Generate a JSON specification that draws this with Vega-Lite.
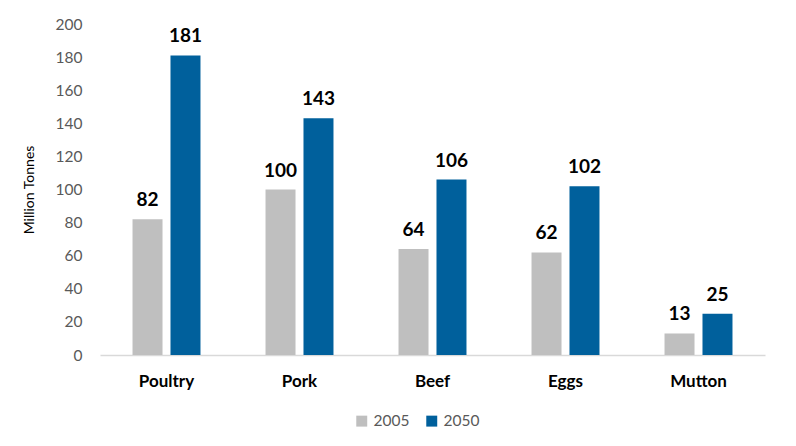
{
  "$schema": "https://vega.github.io/schema/vega-lite/v6.json",
  "width": 665,
  "height": 331,
  "autosize": {"type": "none"},
  "padding": {"left": 100, "top": 24, "right": 31, "bottom": 91},
  "background": "white",
  "config": {"font": "Lato", "view": {"stroke": null}},
  "data": {"values": [
    {"product": "Poultry", "year": "2005", "value": 82},
    {"product": "Poultry", "year": "2050", "value": 181},
    {"product": "Pork", "year": "2005", "value": 100},
    {"product": "Pork", "year": "2050", "value": 143},
    {"product": "Beef", "year": "2005", "value": 64},
    {"product": "Beef", "year": "2050", "value": 106},
    {"product": "Eggs", "year": "2005", "value": 62},
    {"product": "Eggs", "year": "2050", "value": 102},
    {"product": "Mutton", "year": "2005", "value": 13},
    {"product": "Mutton", "year": "2050", "value": 25}
  ]},
  "encoding": {
    "x": {"field": "product", "type": "nominal", "sort": null,
      "scale": {"paddingInner": 0.489, "paddingOuter": 0.2445},
      "axis": {"title": null, "labelAngle": 0, "labelFontSize": 17, "labelFontWeight": "bold", "labelColor": "#000000", "ticks": false, "domainColor": "#D9D9D9", "domainWidth": 1.5, "labelPadding": 18}},
    "xOffset": {"field": "year", "type": "nominal", "scale": {"paddingInner": 0.21, "paddingOuter": 0}},
    "y": {"field": "value", "type": "quantitative",
      "scale": {"domain": [0, 200]},
      "axis": {"values": [0,20,40,60,80,100,120,140,160,180,200], "title": "Million Tonnes", "titleFontSize": 14, "titleFontWeight": "normal", "titleColor": "#000000", "titlePadding": 19, "grid": false, "domain": false, "ticks": false, "labelPadding": 18, "labelFontSize": 15.5, "labelColor": "#595959"}}
  },
  "layer": [
    {"mark": {"type": "bar"},
     "encoding": {"color": {"field": "year", "type": "nominal",
       "scale": {"domain": ["2005", "2050"], "range": ["#BFBFBF", "#00609C"]},
       "legend": {"title": null, "orient": "none", "legendX": 254, "legendY": 389, "direction": "horizontal", "symbolType": "square", "symbolSize": 120, "labelFontSize": 15.5, "labelColor": "#595959", "columnPadding": 14, "symbolStrokeWidth": 0}}}},
    {"mark": {"type": "text", "baseline": "bottom", "dy": -9, "fontSize": 19, "fontWeight": "bold", "color": "#000000"},
     "encoding": {"text": {"field": "value", "type": "quantitative"}}}
  ]
}
